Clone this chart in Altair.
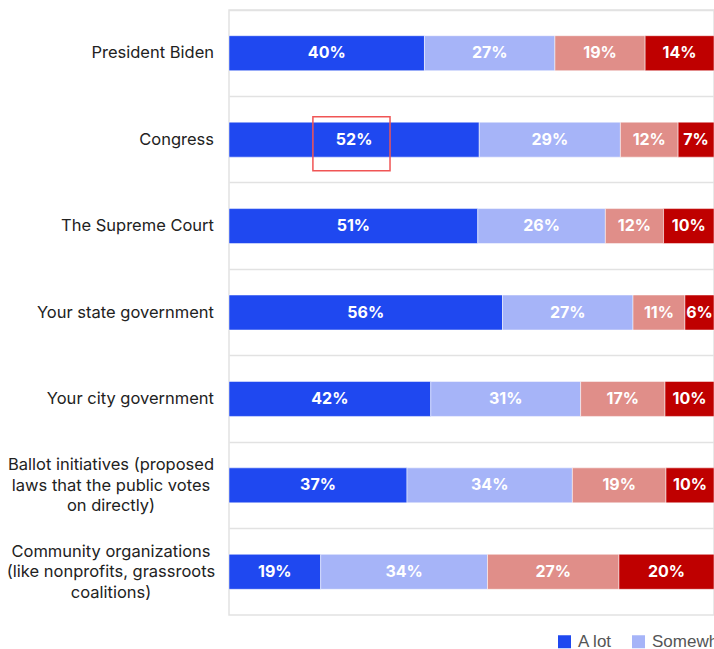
import altair as alt
import pandas as pd

categories = [
    "President Biden",
    "Congress",
    "The Supreme Court",
    "Your state government",
    "Your city government",
    "Ballot initiatives (proposed\nlaws that the public votes\non directly)",
    "Community organizations\n(like nonprofits, grassroots\ncoalitions)",
]
levels = ["A lot", "Somewhat", "Not much", "Not at all"]
a_lot = [40.3, 51.6, 51.3, 56.4, 41.6, 36.7, 18.9]
somewhat = [26.9, 29.1, 26.3, 26.9, 30.9, 34.1, 34.4]
not_much = [18.6, 11.9, 12.0, 10.7, 17.4, 19.3, 27.1]
not_at_all = [14.2, 7.4, 10.4, 6.0, 10.1, 9.9, 19.6]
colors = ["#1f48f0", "#a6b4f8", "#e08e89", "#bf0000"]

series = [a_lot, somewhat, not_much, not_at_all]
rows = []
for i, cat in enumerate(categories):
    start = 0
    for j, lvl in enumerate(levels):
        v = series[j][i]
        rows.append({"category": cat, "level": lvl, "order": j, "value": v,
                     "start": start, "end": start + v, "mid": start + v / 2,
                     "label": f"{round(v)}%"})
        start += v
df = pd.DataFrame(rows)

labels_df = pd.DataFrame({"category": categories,
                          "multi": ["\n" in c for c in categories]})

# highlight box around the Congress "A lot" label
hl = df[(df.category == "Congress") & (df.level == "A lot")].copy()
hl["x0"] = hl["mid"] - 8.5
hl["x1"] = hl["mid"] + 7.4

yscale = alt.Scale(domain=categories, paddingInner=0, paddingOuter=0)
xscale = alt.Scale(domain=[0, 100], nice=False, zero=True)

bars = alt.Chart(df).mark_bar(size=35, stroke="white", strokeWidth=0.5).encode(
    x=alt.X("start:Q", scale=xscale, axis=None),
    x2="end:Q",
    y=alt.Y("category:N", scale=yscale, sort=categories,
            axis=alt.Axis(labels=False, ticks=False, domain=False, title=None,
                          grid=True, bandPosition=0, gridColor="#e2e2e2",
                          gridWidth=1.5)),
    color=alt.Color("level:N", scale=alt.Scale(domain=levels, range=colors),
                    legend=alt.Legend(title=None, orient="none", legendX=327,
                                      legendY=623, direction="horizontal",
                                      symbolType="square", symbolSize=169,
                                      symbolStrokeWidth=0, labelFontSize=17,
                                      labelFont="Liberation Sans",
                                      labelColor="#555555", labelOffset=5,
                                      columnPadding=17, labelLimit=200)),
    order=alt.Order("order:Q"),
)

values = alt.Chart(df).mark_text(color="white", fontSize=16, fontWeight="bold",
                                 font="Inter").encode(
    x=alt.X("mid:Q", scale=xscale),
    y=alt.Y("category:N", scale=yscale, sort=categories),
    text="label:N",
)

ylab_single = alt.Chart(labels_df).transform_filter("!datum.multi").mark_text(
    align="right", baseline="middle", fontSize=16.5, font="Inter",
    color="#222222").encode(
    x=alt.value(-15),
    y=alt.Y("category:N", scale=yscale, sort=categories),
    text="category:N",
)

ylab_multi = alt.Chart(labels_df).transform_filter("datum.multi").mark_text(
    align="center", baseline="middle", fontSize=16.5, font="Inter",
    color="#222222", lineBreak="\n", lineHeight=20.5, dy=-20).encode(
    x=alt.value(-118),
    y=alt.Y("category:N", scale=yscale, sort=categories),
    text="category:N",
)

box = alt.Chart(hl).mark_bar(size=54, fillOpacity=0, stroke="#f05555",
                             strokeWidth=1.5, yOffset=4).encode(
    x=alt.X("x0:Q", scale=xscale),
    x2="x1:Q",
    y=alt.Y("category:N", scale=yscale, sort=categories),
)

chart = alt.layer(bars, values, ylab_single, ylab_multi, box).properties(
    width=485, height=605,
    autosize="none",
    padding={"left": 229, "top": 10, "right": 0, "bottom": 34},
).configure_view(stroke="#e2e2e2", strokeWidth=1.5)

chart.save("out.html", embed_options={"renderer": "svg", "actions": False})
